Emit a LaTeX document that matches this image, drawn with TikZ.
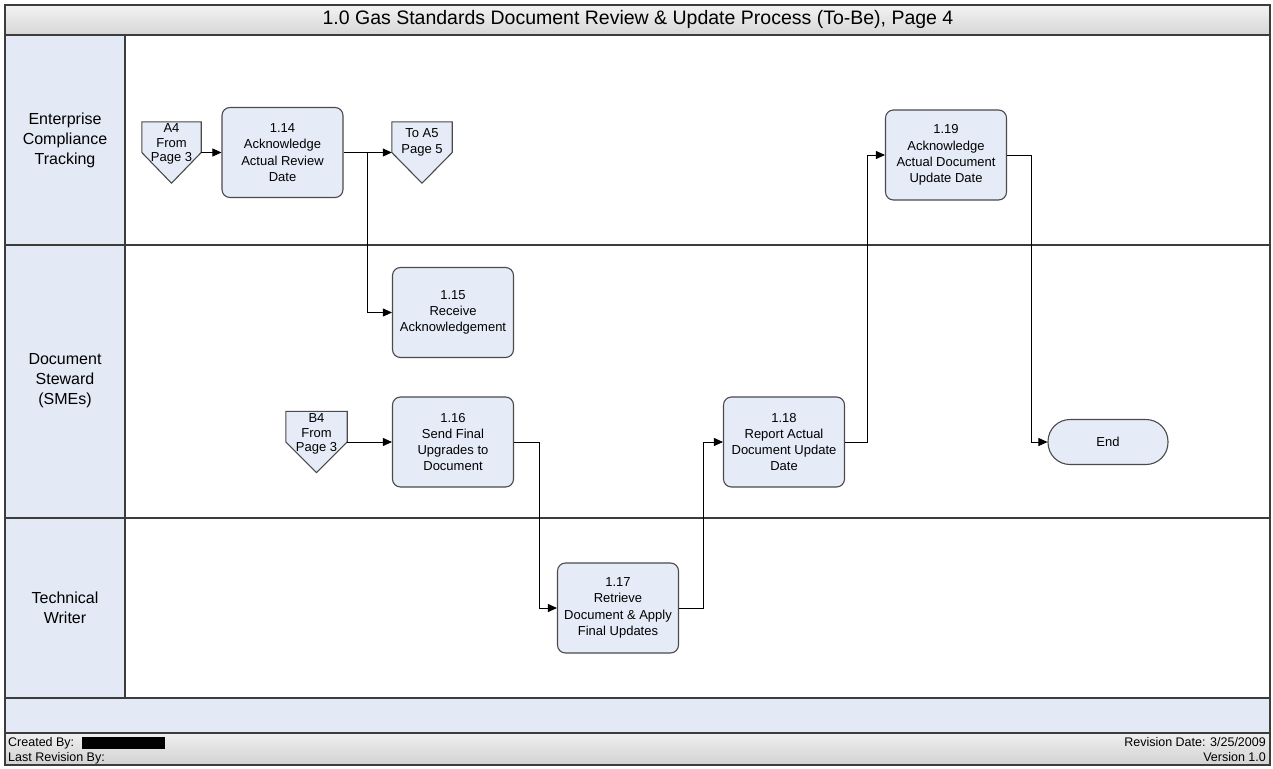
\documentclass[tikz,border=0pt]{standalone}
\usepackage{fontspec}
\setmainfont{Liberation Sans}
\usetikzlibrary{arrows.meta}

\definecolor{laneblue}{HTML}{E3E9F5}
\definecolor{boxblue}{HTML}{E6ECF7}
\definecolor{framegray}{HTML}{3C3C3C}
\definecolor{boxedge}{HTML}{4A4A4A}

\tikzset{
  frame/.style={draw=framegray, line width=1.4pt},
  procbox/.style={draw=boxedge, fill=boxblue, line width=1.1pt, rounded corners=8pt,
    minimum width=121pt, minimum height=90pt, align=center, inner sep=2pt,
    font=\fontsize{13}{16.3}\selectfont},
  terminal/.style={draw=boxedge, fill=boxblue, line width=1.1pt, rounded corners=22pt,
    minimum width=120pt, minimum height=45pt, font=\fontsize{13}{16}\selectfont},
  offpage/.style={minimum width=#1, minimum height=61pt, inner sep=0pt},
  offpage/.default=60pt,
  pentagon/.style={draw=boxedge, fill=boxblue, line width=1.1pt, line join=miter},
  offtext/.style={align=center, inner sep=0pt, font=\fontsize{13}{14.5}\selectfont},
  lanelabel/.style={align=center, font=\fontsize{16}{20}\selectfont},
  flow/.style={draw=black, line width=0.8pt, -{Triangle[length=9pt,width=8pt]}},
  footertext/.style={inner sep=0pt, font=\fontsize{12.5}{14}\selectfont},
}

\begin{document}
\begin{tikzpicture}[x=1pt, y=-1pt]
\useasboundingbox (0,0) rectangle (1273,768);

% title bar, lane header column, bottom band and footer
\shade[top color=white!95!black, bottom color=white!84!black] (5,5) rectangle (1270,35);
\fill[laneblue] (5,35) rectangle (125,698);
\fill[laneblue] (5,698) rectangle (1270,733);
\shade[top color=white!94!black, bottom color=white!82!black] (5,733) rectangle (1270,765);

\draw[frame] (5,5) rectangle (1270,765);
\draw[frame] (5,35) -- (1270,35);
\draw[frame] (5,245) -- (1270,245);
\draw[frame] (5,518) -- (1270,518);
\draw[frame] (5,698) -- (1270,698);
\draw[frame] (5,733) -- (1270,733);
\draw[frame] (125,35) -- (125,698);

\node[font=\fontsize{19.5}{22}\selectfont] (title) at (638,19) {1.0 Gas Standards Document Review \& Update Process (To-Be), Page 4};

\node[lanelabel] (lane1) at (65,140) {Enterprise\\Compliance\\Tracking};
\node[lanelabel] (lane2) at (65,381) {Document\\Steward\\(SMEs)};
\node[lanelabel] (lane3) at (65,608) {Technical\\Writer};

% footer
\node[footertext, anchor=base west] (created) at (8,746.5) {Created By:};
\fill[black] (82,737) rectangle (165,749);
\node[footertext, anchor=base west] (lastrev) at (8,761.5) {Last Revision By:};
\node[footertext, anchor=base east] (revdate) at (1266,746.5) {Revision Date: 3/25/2009};
\node[footertext, anchor=base east] (version) at (1266,761.5) {Version 1.0};

% off-page connectors
\node[offpage=59pt] (a4) at (171.5,152.5) {};
\draw[pentagon] (a4.north west) -- (a4.north east) -- (a4.east) -- (a4.south) -- (a4.west) -- cycle;
\node[offtext] (a4t) at ([yshift=8.5pt]a4.center) {A4\\From\\Page 3};

\node[offpage=60pt] (a5) at (422,152.5) {};
\draw[pentagon] (a5.north west) -- (a5.north east) -- (a5.east) -- (a5.south) -- (a5.west) -- cycle;
\node[offtext, font=\fontsize{13}{16}\selectfont] (a5t) at ([yshift=10.5pt]a5.center) {To A5\\Page 5};

\node[offpage=61pt] (b4) at (316.5,442) {};
\draw[pentagon] (b4.north west) -- (b4.north east) -- (b4.east) -- (b4.south) -- (b4.west) -- cycle;
\node[offtext] (b4t) at ([yshift=8pt]b4.center) {B4\\From\\Page 3};

% process steps
\node[procbox] (n114) at (282.5,152.5) {1.14\\Acknowledge\\Actual Review\\Date};
\node[procbox] (n115) at (453,312.5) {1.15\\Receive\\Acknowledgement};
\node[procbox] (n116) at (453,442) {1.16\\Send Final\\Upgrades to\\Document};
\node[procbox] (n117) at (618,608) {1.17\\Retrieve\\Document \& Apply\\Final Updates};
\node[procbox] (n118) at (784,442) {1.18\\Report Actual\\Document Update\\Date};
\node[procbox] (n119) at (946,155) {1.19\\Acknowledge\\Actual Document\\Update Date};
\node[terminal] (end) at (1108,442) {End};

% connectors
\coordinate (split) at (367,152.5);
\draw[flow] (a4.east) -- (n114.west);
\draw[flow] (n114.east) -- (a5.west);
\draw[flow] (split) |- (n115.west);
\draw[flow] (b4.east) -- (n116.west);
\draw[flow] (n116.east) -- ++(25,0) |- (n117.west);
\draw[flow] (n117.east) -- ++(24,0) |- (n118.west);
\draw[flow] (n118.east) -- ++(22,0) |- (n119.west);
\draw[flow] (n119.east) -- ++(24,0) |- (end.west);
\end{tikzpicture}
\end{document}
